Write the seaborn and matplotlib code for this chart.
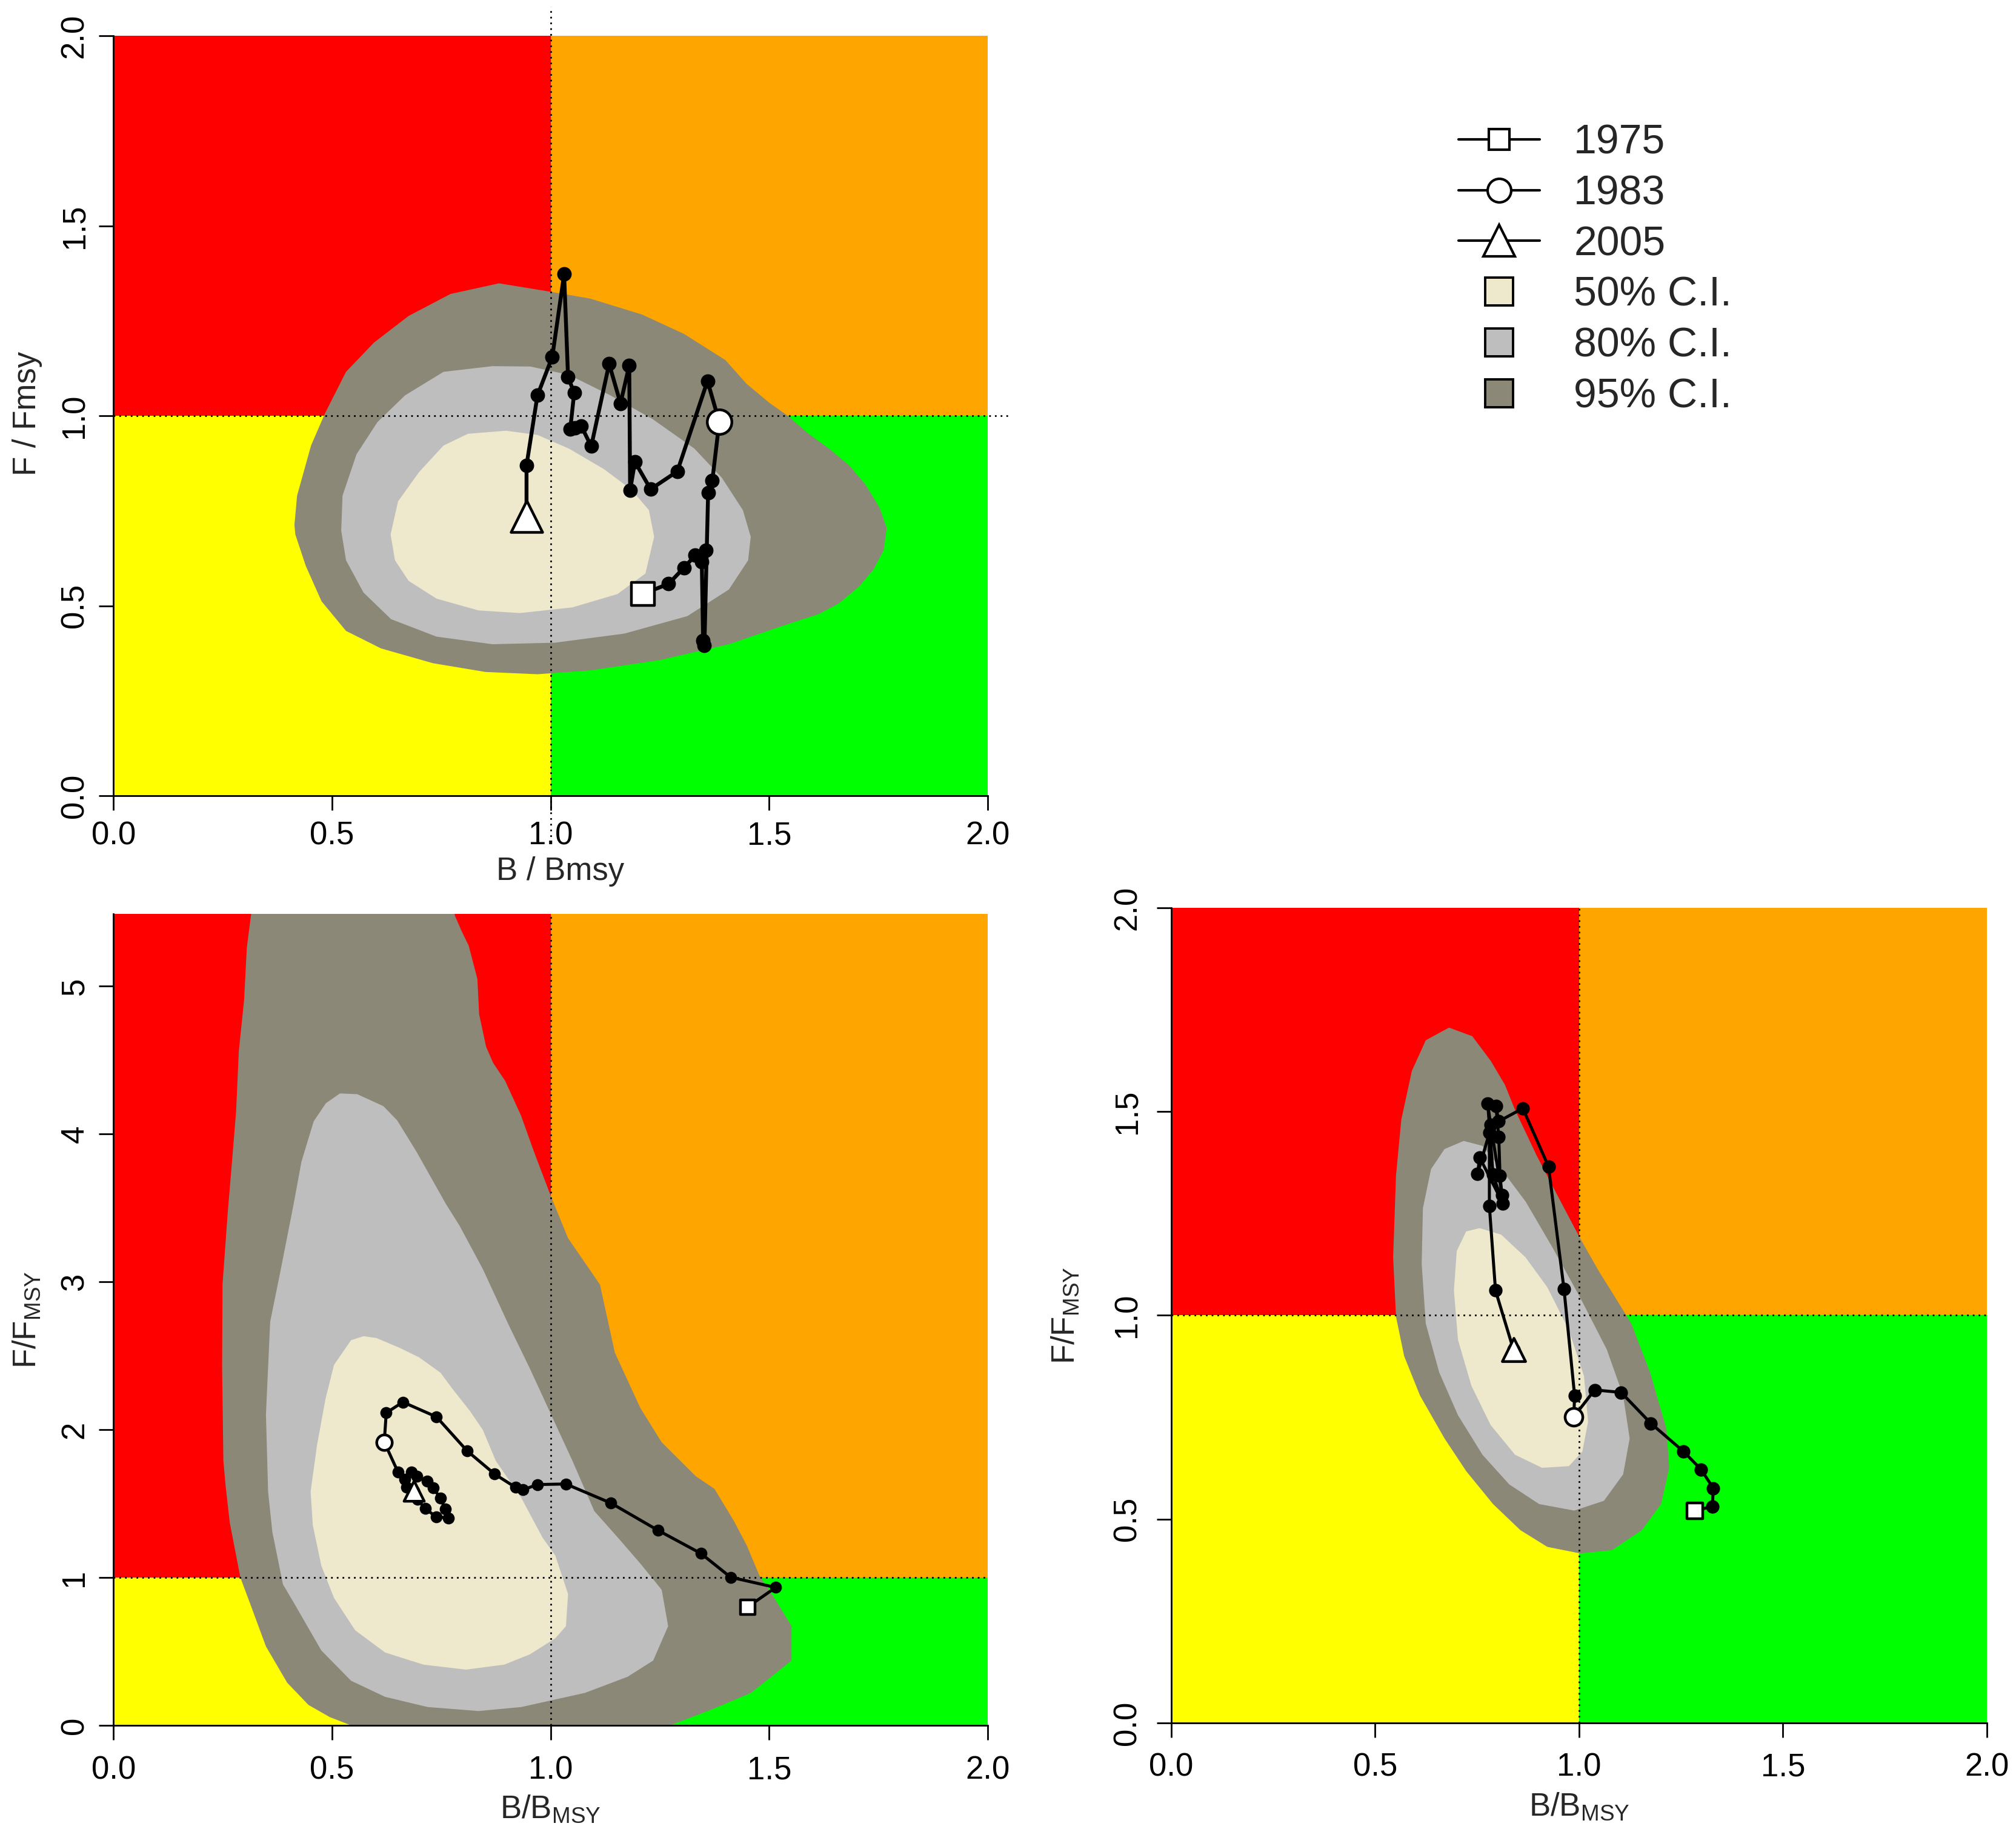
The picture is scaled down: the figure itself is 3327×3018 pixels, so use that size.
import matplotlib
matplotlib.use("Agg")
import matplotlib.pyplot as plt
import seaborn as sns
import pandas as pd
from matplotlib.lines import Line2D

sns.set_style("ticks")
plt.rcParams["font.family"] = ["Liberation Sans", "DejaVu Sans"]
plt.rcParams["mathtext.fontset"] = "custom"
plt.rcParams["mathtext.rm"] = "Liberation Sans"
plt.rcParams["mathtext.it"] = "Liberation Sans:italic"
plt.rcParams["mathtext.bf"] = "Liberation Sans:bold"

# ---------------- data ----------------
# Stock 1 (top-left) trajectory B/Bmsy, F/Fmsy
B1 = [1.211, 1.270, 1.305, 1.331, 1.356, 1.346, 1.349, 1.352, 1.3605, 1.370, 1.386, 1.359, 1.290,
      1.229, 1.193, 1.182, 1.180, 1.160, 1.134, 1.093, 1.070, 1.056, 1.045, 1.054, 1.040, 1.031,
      1.004, 0.970, 0.945, 0.945]
F1 = [0.531, 0.558, 0.600, 0.633, 0.647, 0.616, 0.409, 0.396, 0.798, 0.829, 0.984, 1.092, 0.854,
      0.807, 0.879, 0.804, 1.133, 1.033, 1.137, 0.920, 0.974, 0.968, 0.965, 1.061, 1.102, 1.373,
      1.156, 1.054, 0.870, 0.736]
# Stock 2 (bottom-left)
B2 = [1.451, 1.515, 1.412, 1.344, 1.2455, 1.138, 1.035, 0.970, 0.937, 0.920, 0.872, 0.809, 0.739,
      0.662, 0.624, 0.6195, 0.651, 0.667, 0.681, 0.694, 0.718, 0.731, 0.748, 0.759, 0.766, 0.738,
      0.713, 0.696, 0.670, 0.687]
F2 = [0.801, 0.933, 1.002, 1.163, 1.320, 1.504, 1.633, 1.629, 1.594, 1.610, 1.700, 1.857, 2.087,
      2.187, 2.114, 1.916, 1.713, 1.665, 1.713, 1.686, 1.652, 1.606, 1.539, 1.462, 1.403, 1.412,
      1.466, 1.529, 1.612, 1.585]
# Stock 3 (bottom-right)
B3 = [1.284, 1.327, 1.329, 1.299, 1.256, 1.176, 1.103, 1.038, 0.987, 0.989, 0.963, 0.925, 0.862,
      0.803, 0.796, 0.803, 0.806, 0.811, 0.783, 0.776, 0.789, 0.813, 0.756, 0.751, 0.780, 0.780,
      0.795, 0.839]
F3 = [0.521, 0.531, 0.576, 0.622, 0.666, 0.735, 0.811, 0.817, 0.751, 0.803, 1.064, 1.365, 1.508,
      1.476, 1.514, 1.438, 1.343, 1.295, 1.468, 1.519, 1.345, 1.275, 1.388, 1.347, 1.448, 1.268,
      1.061, 0.916]
# index of the 1983 point in each trajectory (first = 1975, last = 2005)
IDX_1983 = [10, 15, 8]

# Confidence-region outlines (B, F)
TL95_B = [0.414, 0.420, 0.452, 0.484, 0.532, 0.596, 0.675, 0.771, 0.882, 0.994, 1.090, 1.209, 1.305,
          1.400, 1.448, 1.500, 1.543, 1.589, 1.636, 1.683, 1.720, 1.753, 1.769, 1.762, 1.739, 1.706,
          1.659, 1.613, 1.543, 1.408, 1.249, 1.090, 0.970, 0.851, 0.731, 0.612, 0.532, 0.476, 0.440,
          0.416]
TL95_F = [0.713, 0.790, 0.922, 1.007, 1.116, 1.193, 1.263, 1.321, 1.349, 1.328, 1.309, 1.267, 1.216,
          1.147, 1.085, 1.035, 1.000, 0.954, 0.915, 0.870, 0.820, 0.758, 0.705, 0.646, 0.596, 0.551,
          0.506, 0.478, 0.452, 0.399, 0.357, 0.330, 0.320, 0.326, 0.349, 0.388, 0.434, 0.512, 0.605,
          0.688]
TL80_B = [0.867, 0.954, 1.042, 1.137, 1.233, 1.329, 1.392, 1.440, 1.458, 1.452, 1.408, 1.313, 1.169,
          1.010, 0.867, 0.739, 0.635, 0.572, 0.532, 0.521, 0.524, 0.556, 0.604, 0.667, 0.755]
TL80_F = [1.131, 1.130, 1.108, 1.054, 0.992, 0.914, 0.837, 0.752, 0.682, 0.620, 0.543, 0.473, 0.427,
          0.403, 0.399, 0.419, 0.465, 0.535, 0.620, 0.698, 0.790, 0.899, 0.984, 1.054, 1.116]
TL50_B = [0.898, 0.970, 1.042, 1.122, 1.185, 1.225, 1.237, 1.217, 1.153, 1.050, 0.930, 0.835, 0.739,
          0.675, 0.644, 0.634, 0.651, 0.699, 0.755, 0.811]
TL50_F = [0.961, 0.950, 0.914, 0.860, 0.806, 0.752, 0.682, 0.585, 0.531, 0.496, 0.481, 0.488, 0.519,
          0.566, 0.620, 0.688, 0.775, 0.852, 0.922, 0.953]

BL95_B = [0.5435, 0.5435, 0.4948, 0.4462, 0.3975, 0.3488, 0.3147, 0.2904, 0.266, 0.2563, 0.2514,
          0.2485, 0.2494, 0.2612, 0.273, 0.2805, 0.2868, 0.2988, 0.305, 0.3147, 0.318, 0.780, 0.7808,
          0.797, 0.8127, 0.8326, 0.8366, 0.8525, 0.8685, 0.8963, 0.9322, 0.962, 1.000, 1.040, 1.113,
          1.147, 1.2056, 1.254, 1.332, 1.375, 1.4198, 1.449, 1.478, 1.512, 1.5513, 1.5513, 1.517,
          1.4587, 1.371, 1.2737, 1.2737]
BL95_F = [-0.1, 0.0, 0.056, 0.138, 0.288, 0.534, 0.807, 0.999, 1.372, 1.627, 1.790, 2.418, 2.982,
          3.463, 3.881, 4.154, 4.564, 4.906, 5.261, 5.482, 5.7, 5.7, 5.48, 5.37, 5.275, 5.049, 4.810,
          4.591, 4.482, 4.359, 4.127, 3.881, 3.585, 3.296, 2.982, 2.522, 2.146, 1.916, 1.686, 1.600,
          1.381, 1.217, 1.012, 0.862, 0.671, 0.4385, 0.357, 0.220, 0.110, 0.0, -0.1]
BL80_B = [0.5435, 0.6214, 0.7188, 0.8355, 0.933, 1.079, 1.1764, 1.2348, 1.269, 1.2543, 1.2056, 1.160,
          1.100, 1.050, 1.001, 0.952, 0.904, 0.845, 0.792, 0.760, 0.6932, 0.649, 0.6175, 0.5577,
          0.518, 0.486, 0.458, 0.430, 0.4121, 0.3829, 0.3585, 0.3488, 0.3537, 0.3634, 0.3877, 0.417,
          0.4754]
BL80_F = [0.302, 0.193, 0.124, 0.097, 0.124, 0.220, 0.329, 0.4385, 0.671, 0.917, 1.094, 1.250, 1.450,
          1.790, 2.104, 2.418, 2.710, 3.087, 3.379, 3.530, 3.881, 4.093, 4.189, 4.270, 4.275, 4.209,
          4.086, 3.813, 3.526, 3.087, 2.731, 2.104, 1.581, 1.309, 0.954, 0.807, 0.507]
BL50_B = [0.5727, 0.602, 0.6555, 0.699, 0.748, 0.777, 0.816, 0.845, 0.8746, 0.933, 0.9817, 1.0108,
          1.040, 1.0352, 1.0108, 0.9524, 0.894, 0.8064, 0.709, 0.6214, 0.553, 0.5045, 0.4754, 0.456,
          0.451, 0.4656, 0.485, 0.5045, 0.5435]
BL50_F = [2.633, 2.620, 2.553, 2.490, 2.386, 2.271, 2.125, 1.999, 1.790, 1.539, 1.270, 1.149, 0.889,
          0.671, 0.589, 0.480, 0.411, 0.377, 0.411, 0.493, 0.643, 0.862, 1.081, 1.354, 1.581, 1.895,
          2.208, 2.4385, 2.606]

BR95_B = [0.681, 0.738, 0.783, 0.818, 0.843, 0.896, 0.955, 1.002, 1.048, 1.088, 1.128, 1.174, 1.214,
          1.221, 1.201, 1.154, 1.081, 1.002, 0.922, 0.856, 0.789, 0.723, 0.670, 0.610, 0.571, 0.551,
          0.544, 0.551, 0.564, 0.590, 0.624]
BR95_F = [1.706, 1.685, 1.625, 1.566, 1.504, 1.392, 1.279, 1.190, 1.109, 1.045, 0.980, 0.860, 0.722,
          0.626, 0.537, 0.473, 0.424, 0.416, 0.432, 0.473, 0.537, 0.618, 0.698, 0.803, 0.900, 0.997,
          1.142, 1.343, 1.480, 1.600, 1.675]
BR80_B = [0.717, 0.763, 0.809, 0.869, 0.935, 1.002, 1.068, 1.108, 1.124, 1.108, 1.061, 0.988, 0.902,
          0.829, 0.763, 0.703, 0.657, 0.624, 0.614, 0.617, 0.637, 0.670]
BR80_F = [1.428, 1.416, 1.359, 1.279, 1.166, 1.045, 0.916, 0.803, 0.698, 0.610, 0.545, 0.521, 0.537,
          0.585, 0.658, 0.755, 0.860, 0.980, 1.126, 1.263, 1.359, 1.408]
BR50_B = [0.756, 0.809, 0.869, 0.922, 0.975, 1.012, 1.022, 1.008, 0.975, 0.909, 0.843, 0.783, 0.736,
          0.703, 0.693, 0.700, 0.723]
BR50_F = [1.214, 1.198, 1.142, 1.069, 0.964, 0.851, 0.739, 0.666, 0.630, 0.626, 0.658, 0.731, 0.827,
          0.940, 1.061, 1.158, 1.206]

X_TICKS = [0.0, 0.5, 1.0, 1.5, 2.0]
X_TICKLABELS = ["0.0", "0.5", "1.0", "1.5", "2.0"]
Y_TICKS_A = [0.0, 0.5, 1.0, 1.5, 2.0]
Y_TICKLABELS_A = ["0.0", "0.5", "1.0", "1.5", "2.0"]
Y_TICKS_B = [0, 1, 2, 3, 4, 5]
Y_TICKLABELS_B = ["0", "1", "2", "3", "4", "5"]
LEGEND_LABELS = ["1975", "1983", "2005", "50% C.I.", "80% C.I.", "95% C.I."]

# ---------------- style ----------------
C_RED, C_ORANGE, C_YELLOW, C_GREEN = "#FF0000", "#FFA500", "#FFFF00", "#00FF00"
C50, C80, C95 = "#EEE8CD", "#BEBEBE", "#8B8878"
FS_TICK = 19
FS_LAB = 19
FS_LEG = 24.5
PX = 72.0 / 200.0   # points per pixel

DPI = 200
fig = plt.figure(figsize=(3327 / DPI, 3018 / DPI), dpi=DPI)

ax_tl = fig.add_axes([0.0563, 0.5649, 0.4336, 0.4154])
ax_bl = fig.add_axes([0.0563, 0.05666, 0.4336, 0.4437])
ax_br = fig.add_axes([0.5810, 0.0580, 0.40457, 0.44566])


def kobe_axes(ax, ytop, yticks, yticklabels, xpad, ypad):
    ax.set_xlim(0, 2)
    ax.set_ylim(0, ytop)
    # quadrants
    ax.fill_between([0, 1], 0, 1, color=C_YELLOW, lw=0, zorder=0.2)
    ax.fill_between([1, 2], 0, 1, color=C_GREEN, lw=0, zorder=0.2)
    ax.fill_between([0, 1], 1, ytop, color=C_RED, lw=0, zorder=0.2)
    ax.fill_between([1, 2], 1, ytop, color=C_ORANGE, lw=0, zorder=0.2)
    for s in ["top", "right"]:
        ax.spines[s].set_visible(False)
    for s in ["left", "bottom"]:
        ax.spines[s].set_color("black")
        ax.spines[s].set_linewidth(1.0)
        ax.spines[s].set_zorder(6)
    ax.set_xticks(X_TICKS)
    ax.set_xticklabels(X_TICKLABELS, fontsize=FS_TICK)
    ax.set_yticks(yticks)
    ax.set_yticklabels(yticklabels, fontsize=FS_TICK, rotation=90, va="center")
    ax.tick_params(axis="both", direction="out", length=24 * PX, width=1.0, color="black",
                   labelcolor="black")
    ax.tick_params(axis="x", pad=xpad)
    ax.tick_params(axis="y", pad=ypad)


def draw_ci(ax, polys):
    for (bx, fy), col, z in zip(polys, [C95, C80, C50], [1.0, 1.1, 1.2]):
        ax.fill(bx, fy, color=col, lw=0, zorder=z)


def draw_traj(ax, B, F, i83, lw, dot, sq, ci, tri):
    df = pd.DataFrame({"B": B, "F": F})
    sns.lineplot(data=df, x="B", y="F", sort=False, estimator=None, color="black",
                 linewidth=lw, marker="o", markersize=dot, markeredgewidth=0.8,
                 markeredgecolor="black", ax=ax, zorder=3, legend=False)
    ends = [(0, "s", sq), (i83, "o", ci), (len(B) - 1, "^", tri)]
    for idx, mk, size in ends:
        sns.scatterplot(x=[B[idx]], y=[F[idx]], marker=mk, s=size ** 2, color="white",
                        edgecolor="black", linewidth=1.6, ax=ax, zorder=5, legend=False)


# ----- top-left -----
kobe_axes(ax_tl, 2.0, Y_TICKS_A, Y_TICKLABELS_A, xpad=6.4, ypad=5.4)
draw_ci(ax_tl, [(TL95_B, TL95_F), (TL80_B, TL80_F), (TL50_B, TL50_F)])
ax_tl.plot([1, 1], [-0.123, 2.078], ls=(0, (1, 2.4)), color="black", lw=1.0, zorder=2,
           clip_on=False)
ax_tl.plot([0, 2.05], [1, 1], ls=(0, (1, 2.4)), color="black", lw=1.0, zorder=2, clip_on=False)
draw_traj(ax_tl, B1, F1, IDX_1983[0], lw=2.3, dot=7.8, sq=13.5, ci=14.6, tri=18.7)
ax_tl.set_xlabel("B / Bmsy", fontsize=FS_LAB)
ax_tl.set_ylabel("F / Fmsy", fontsize=FS_LAB)
ax_tl.xaxis.set_label_coords(0.511, -0.0798)
ax_tl.yaxis.set_label_coords(-0.0813, 0.503)

# ----- bottom-left -----
kobe_axes(ax_bl, 5.49, Y_TICKS_B, Y_TICKLABELS_B, xpad=9.0, ypad=5.4)
draw_ci(ax_bl, [(BL95_B, BL95_F), (BL80_B, BL80_F), (BL50_B, BL50_F)])
ax_bl.axvline(1, ls=(0, (1, 2.4)), color="black", lw=1.0, zorder=2)
ax_bl.axhline(1, ls=(0, (1, 2.4)), color="black", lw=1.0, zorder=2)
draw_traj(ax_bl, B2, F2, IDX_1983[1], lw=1.8, dot=6.3, sq=8.8, ci=9.2, tri=12.0)
ax_bl.set_xlabel(r"B/B$_{\mathregular{MSY}}$", fontsize=FS_LAB)
ax_bl.set_ylabel(r"F/F$_{\mathregular{MSY}}$", fontsize=FS_LAB)
ax_bl.xaxis.set_label_coords(0.5, -0.0844)
ax_bl.yaxis.set_label_coords(-0.0813, 0.5)

# ----- bottom-right -----
kobe_axes(ax_br, 2.0, Y_TICKS_A, Y_TICKLABELS_A, xpad=9.0, ypad=8.4)
draw_ci(ax_br, [(BR95_B, BR95_F), (BR80_B, BR80_F), (BR50_B, BR50_F)])
ax_br.axvline(1, ls=(0, (1, 2.4)), color="black", lw=1.0, zorder=2)
ax_br.axhline(1, ls=(0, (1, 2.4)), color="black", lw=1.0, zorder=2)
draw_traj(ax_br, B3, F3, IDX_1983[2], lw=1.8, dot=7.2, sq=9.4, ci=10.5, tri=13.8)
ax_br.set_xlabel(r"B/B$_{\mathregular{MSY}}$", fontsize=FS_LAB)
ax_br.set_ylabel(r"F/F$_{\mathregular{MSY}}$", fontsize=FS_LAB)
ax_br.xaxis.set_label_coords(0.5, -0.084)
ax_br.yaxis.set_label_coords(-0.111, 0.5)

# ----- legend -----
handles = [
    Line2D([0], [0], color="black", lw=1.5, marker="s", markersize=12.2, mfc="white",
           mec="black", mew=1.5),
    Line2D([0], [0], color="black", lw=1.5, marker="o", markersize=14, mfc="white",
           mec="black", mew=1.5),
    Line2D([0], [0], color="black", lw=1.5, marker="^", markersize=18.7, mfc="white",
           mec="black", mew=1.5),
    Line2D([0], [0], ls="none", marker="s", markersize=16.5, mfc=C50, mec="black", mew=1.4),
    Line2D([0], [0], ls="none", marker="s", markersize=16.5, mfc=C80, mec="black", mew=1.4),
    Line2D([0], [0], ls="none", marker="s", markersize=16.5, mfc=C95, mec="black", mew=1.4),
]
fig.legend(handles, LEGEND_LABELS, loc="upper left", bbox_to_anchor=(0.7234, 0.9325),
           bbox_transform=fig.transFigure, frameon=False, fontsize=FS_LEG,
           handlelength=1.97, handletextpad=0.83, labelspacing=0.29, borderpad=0,
           borderaxespad=0)

fig.savefig("out.png", dpi=DPI)
